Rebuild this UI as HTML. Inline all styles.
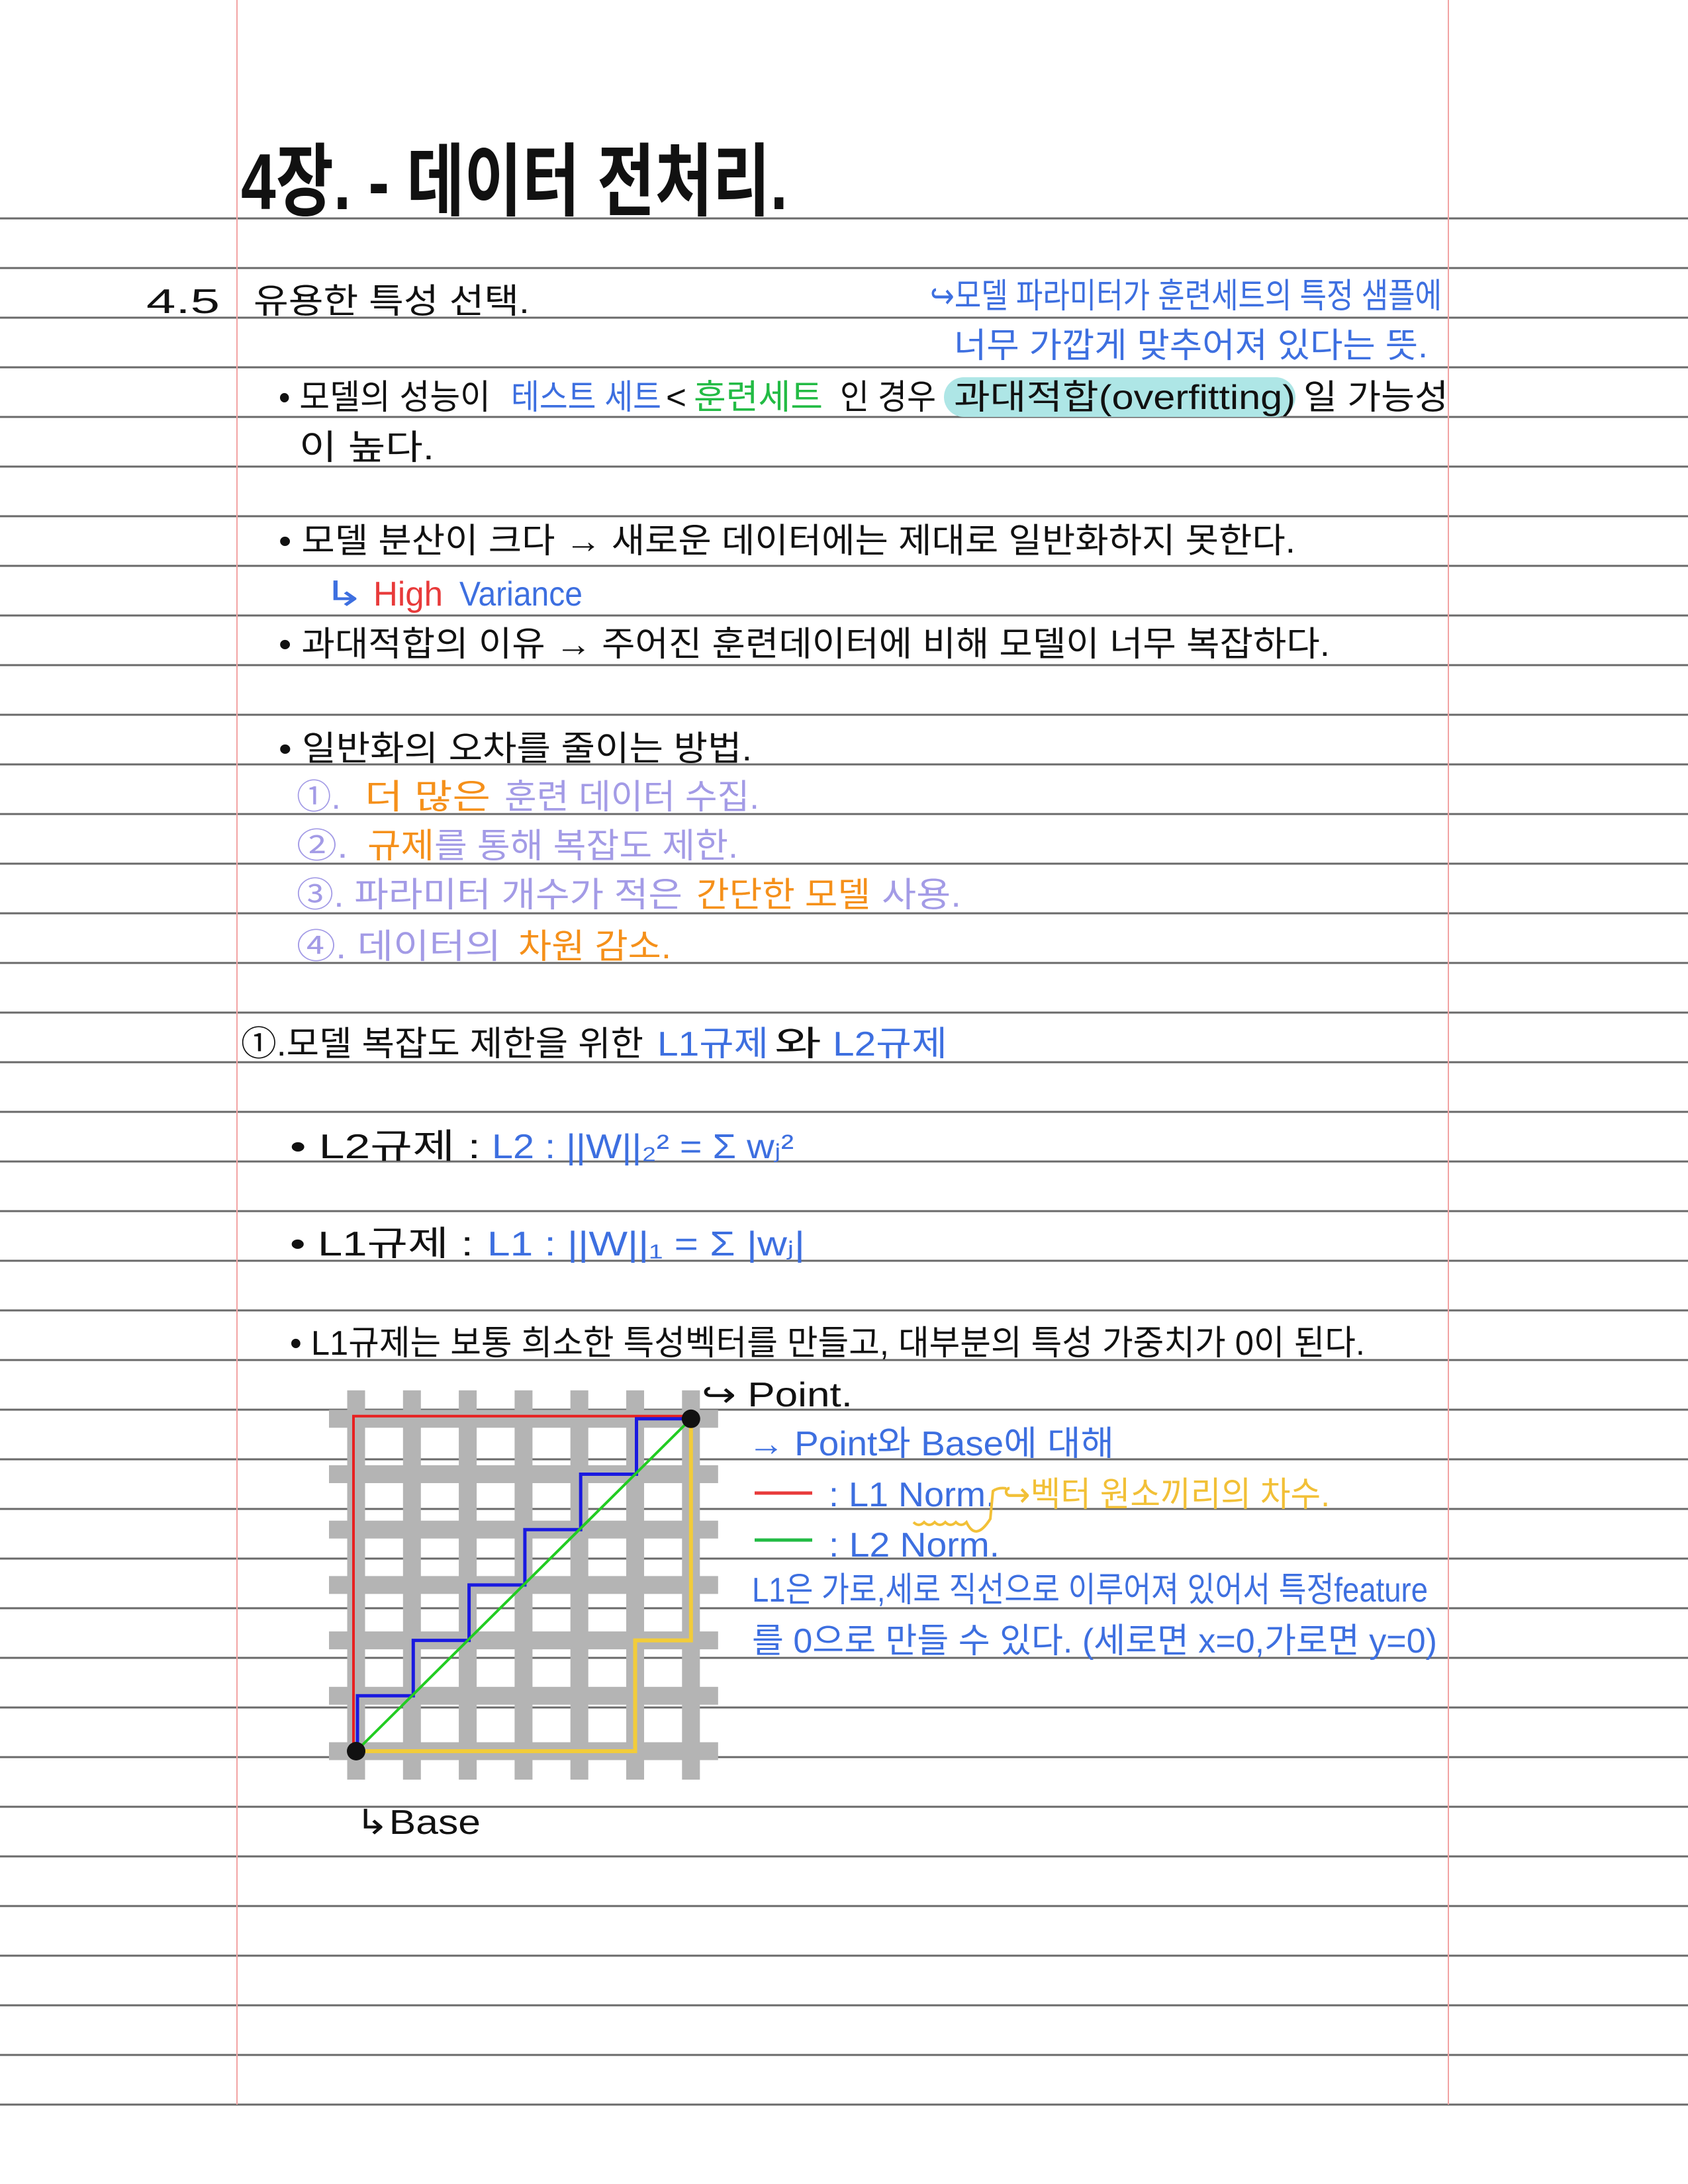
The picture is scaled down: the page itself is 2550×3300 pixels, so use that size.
<!DOCTYPE html>
<html><head><meta charset="utf-8">
<style>
html,body{margin:0;padding:0;background:#fff;}
svg{display:block;}
text{font-family:"Liberation Sans","Noto Sans CJK KR",sans-serif;}
.k{fill:#111;font-size:52px;}
.b{fill:#3d6fe0;}
.p{fill:#a39be6;}
.o{fill:#f5901a;}
.g{fill:#22bb44;}
.r{fill:#e83a3a;}
.y{fill:#f2c037;}
</style></head>
<body>
<svg id="page" width="2550" height="3300" viewBox="0 0 2550 3300" xmlns="http://www.w3.org/2000/svg">
<g id="rules"></g>
<line x1="358" y1="0" x2="358" y2="3180" stroke="#f2a3a3" stroke-width="2"/>
<line x1="2188" y1="0" x2="2188" y2="3180" stroke="#f2a3a3" stroke-width="2"/>

<text x="364" y="316" font-size="120" font-weight="700" fill="#111" textLength="826" lengthAdjust="spacingAndGlyphs">4장. - 데이터 전처리.</text>

<text class="k" x="221" y="473" textLength="111" lengthAdjust="spacingAndGlyphs">4.5</text>
<text class="k" x="383" y="473" textLength="417" lengthAdjust="spacingAndGlyphs">유용한 특성 선택.</text>

<rect x="1426" y="570" width="531" height="60" rx="30" fill="#aee6e6"/>
<text class="k b" x="1405" y="465" font-size="46" textLength="773" lengthAdjust="spacingAndGlyphs">↪모델 파라미터가 훈련세트의 특정 샘플에</text>
<text class="k b" x="1441" y="540" font-size="46" textLength="716" lengthAdjust="spacingAndGlyphs">너무 가깝게 맞추어져 있다는 뜻.</text>

<g>
<text class="k" x="421" y="618" textLength="320" lengthAdjust="spacingAndGlyphs">• 모델의 성능이</text>
<text class="k b" x="772" y="618" textLength="227" lengthAdjust="spacingAndGlyphs">테스트 세트</text>
<text class="k" x="1006" y="618" textLength="31" lengthAdjust="spacingAndGlyphs">&lt;</text>
<text class="k g" x="1048" y="618" textLength="195" lengthAdjust="spacingAndGlyphs">훈련세트</text>
<text class="k" x="1269" y="618" textLength="145" lengthAdjust="spacingAndGlyphs">인 경우</text>
<text class="k" x="1441" y="618" textLength="516" lengthAdjust="spacingAndGlyphs">과대적합(overfitting)</text>
<text class="k" x="1969" y="618" textLength="219" lengthAdjust="spacingAndGlyphs">일 가능성</text>
<text class="k" x="452" y="694" textLength="204" lengthAdjust="spacingAndGlyphs">이 높다.</text>
</g>

<text class="k" x="421" y="835" textLength="1536" lengthAdjust="spacingAndGlyphs">• 모델 분산이 크다 → 새로운 데이터에는 제대로 일반화하지 못한다.</text>
<g>
<text class="k b" x="488" y="915" font-size="46" textLength="63" lengthAdjust="spacingAndGlyphs">↳</text>
<text class="k r" x="564" y="915" font-size="46" textLength="105" lengthAdjust="spacingAndGlyphs">High</text>
<text class="k b" x="694" y="915" font-size="46" textLength="186" lengthAdjust="spacingAndGlyphs">Variance</text>
</g>
<text class="k" x="421" y="991" textLength="1588" lengthAdjust="spacingAndGlyphs">• 과대적합의 이유 → 주어진 훈련데이터에 비해 모델이 너무 복잡하다.</text>

<text class="k" x="421" y="1149" textLength="715" lengthAdjust="spacingAndGlyphs">• 일반화의 오차를 줄이는 방법.</text>
<g>
<text class="k p" x="448" y="1222" textLength="67" lengthAdjust="spacingAndGlyphs">①.</text>
<text class="k o" x="551" y="1222" textLength="190" lengthAdjust="spacingAndGlyphs">더 많은</text>
<text class="k p" x="762" y="1222" textLength="385" lengthAdjust="spacingAndGlyphs">훈련 데이터 수집.</text>
</g>
<g>
<text class="k p" x="448" y="1296" textLength="78" lengthAdjust="spacingAndGlyphs">②.</text>
<text class="k o" x="555" y="1296" textLength="101" lengthAdjust="spacingAndGlyphs">규제</text>
<text class="k p" x="656" y="1296" textLength="459" lengthAdjust="spacingAndGlyphs">를 통해 복잡도 제한.</text>
</g>
<g>
<text class="k p" x="448" y="1370" textLength="583" lengthAdjust="spacingAndGlyphs">③. 파라미터 개수가 적은</text>
<text class="k o" x="1052" y="1370" textLength="263" lengthAdjust="spacingAndGlyphs">간단한 모델</text>
<text class="k p" x="1332" y="1370" textLength="120" lengthAdjust="spacingAndGlyphs">사용.</text>
</g>
<g>
<text class="k p" x="448" y="1448" textLength="309" lengthAdjust="spacingAndGlyphs">④. 데이터의</text>
<text class="k o" x="783" y="1448" textLength="231" lengthAdjust="spacingAndGlyphs">차원 감소.</text>
</g>

<g>
<text class="k" x="364" y="1595" textLength="608" lengthAdjust="spacingAndGlyphs">①.모델 복잡도 제한을 위한</text>
<text class="k b" x="993" y="1595" textLength="168" lengthAdjust="spacingAndGlyphs">L1규제</text>
<text class="k" x="1170" y="1595" textLength="71" lengthAdjust="spacingAndGlyphs">와</text>
<text class="k b" x="1258" y="1595" textLength="173" lengthAdjust="spacingAndGlyphs">L2규제</text>
</g>
<g>
<text class="k" x="438" y="1750" textLength="288" lengthAdjust="spacingAndGlyphs">• L2규제 :</text>
<text class="k b" x="743" y="1750" textLength="456" lengthAdjust="spacingAndGlyphs">L2 : ||W||₂² = Σ wⱼ²</text>
</g>
<g>
<text class="k" x="438" y="1897" textLength="277" lengthAdjust="spacingAndGlyphs">• L1규제 :</text>
<text class="k b" x="736" y="1897" textLength="480" lengthAdjust="spacingAndGlyphs">L1 : ||W||₁ = Σ |wⱼ|</text>
</g>
<text class="k" x="438" y="2047" textLength="1624" lengthAdjust="spacingAndGlyphs">• L1규제는 보통 희소한 특성벡터를 만들고, 대부분의 특성 가중치가 0이 된다.</text>

<g id="diagram"></g>

<text class="k" x="1060" y="2125" font-size="46" textLength="228" lengthAdjust="spacingAndGlyphs">↪ Point.</text>
<text class="k" x="537" y="2771" font-size="46" textLength="189" lengthAdjust="spacingAndGlyphs">↳Base</text>

<g>
<text class="k b" x="1130" y="2199" textLength="553" lengthAdjust="spacingAndGlyphs">→ Point와 Base에 대해</text>
<line x1="1140" y1="2256" x2="1227" y2="2256" stroke="#e83a3a" stroke-width="5"/>
<text class="k b" x="1252" y="2276" textLength="252" lengthAdjust="spacingAndGlyphs">: L1 Norm.</text>
<path d="M1380 2300 q8 8 16 0 q8 8 16 0 q8 8 16 0 q8 8 16 0 q8 8 16 0 q14 30 36 -5 l4 -42 q8 -6 20 -4" fill="none" stroke="#f2c037" stroke-width="4"/>
<text class="k y" x="1515" y="2276" font-size="46" textLength="494" lengthAdjust="spacingAndGlyphs">↪벡터 원소끼리의 차수.</text>
<line x1="1140" y1="2327" x2="1227" y2="2327" stroke="#22bb44" stroke-width="5"/>
<text class="k b" x="1252" y="2352" textLength="258" lengthAdjust="spacingAndGlyphs">: L2 Norm.</text>
<text class="k b" x="1136" y="2420" textLength="1021" lengthAdjust="spacingAndGlyphs">L1은 가로,세로 직선으로 이루어져 있어서 특정feature</text>
<text class="k b" x="1136" y="2497" textLength="1035" lengthAdjust="spacingAndGlyphs">를 0으로 만들 수 있다. (세로면 x=0,가로면 y=0)</text>
</g>
</svg>
<script>
// grid diagram data (grid units)
const gridIdx = [0, 1, 2, 3, 4, 5, 6];
const redX = [0, 0, 6];
const redY = [0, 6, 6];
const blueX = [0, 0, 1, 1, 2, 2, 3, 3, 4, 4, 5, 5, 6];
const blueY = [0, 1, 1, 2, 2, 3, 3, 4, 4, 5, 5, 6, 6];
const yellowX = [0, 5, 5, 6, 6];
const yellowY = [0, 0, 2, 2, 6];
const greenX = [0, 6];
const greenY = [0, 6];

const NS = 'http://www.w3.org/2000/svg';
function gx(i) { return 538 + i * 84.3; }
function gy(j) { return 2646 - j * 83.7; }

const rules = document.getElementById('rules');
for (let k = 0; k <= 38; k++) {
  const ln = document.createElementNS(NS, 'line');
  ln.setAttribute('x1', 0); ln.setAttribute('x2', 2550);
  ln.setAttribute('y1', 330 + k * 75); ln.setAttribute('y2', 330 + k * 75);
  ln.setAttribute('stroke', '#6a6a6a'); ln.setAttribute('stroke-width', '3');
  
  
  rules.appendChild(ln);
}

const dg = document.getElementById('diagram');
gridIdx.forEach(i => {
  const v = document.createElementNS(NS, 'rect');
  v.setAttribute('x', gx(i) - 13.5); v.setAttribute('y', gy(6) - 43);
  v.setAttribute('width', 27); v.setAttribute('height', gy(0) - gy(6) + 86);
  v.setAttribute('fill', '#b4b4b4');
  
  
  dg.appendChild(v);
});
gridIdx.forEach(j => {
  const h = document.createElementNS(NS, 'rect');
  h.setAttribute('x', gx(0) - 41); h.setAttribute('y', gy(j) - 13.5);
  h.setAttribute('width', gx(6) - gx(0) + 82); h.setAttribute('height', 27);
  h.setAttribute('fill', '#b4b4b4');
  
  
  dg.appendChild(h);
});
function pathOf(xs, ys, color, w, name, dx, dy) {
  const p = document.createElementNS(NS, 'polyline');
  p.setAttribute('points', xs.map((x, k) => (gx(x) + dx) + ',' + (gy(ys[k]) + dy)).join(' '));
  p.setAttribute('fill', 'none'); p.setAttribute('stroke', color);
  p.setAttribute('stroke-width', w);
  
  
  dg.appendChild(p);
}
pathOf(yellowX, yellowY, '#f2cc3a', 6, 'yellow-l1-path', 0, 0);
pathOf(redX, redY, '#e82020', 4, 'red-l1-path', -4, -4);
pathOf(blueX, blueY, '#1a1ae0', 5, 'blue-l1-path', 2, 0);
pathOf(greenX, greenY, '#22cc22', 4, 'green-l2-path', 0, 0);
[[greenX[0], greenY[0], 'base-point'], [greenX[1], greenY[1], 'target-point']].forEach(d => {
  const c = document.createElementNS(NS, 'circle');
  c.setAttribute('cx', gx(d[0])); c.setAttribute('cy', gy(d[1]));
  c.setAttribute('r', 14); c.setAttribute('fill', '#111');
  
  
  dg.appendChild(c);
});
</script>
</body></html>
